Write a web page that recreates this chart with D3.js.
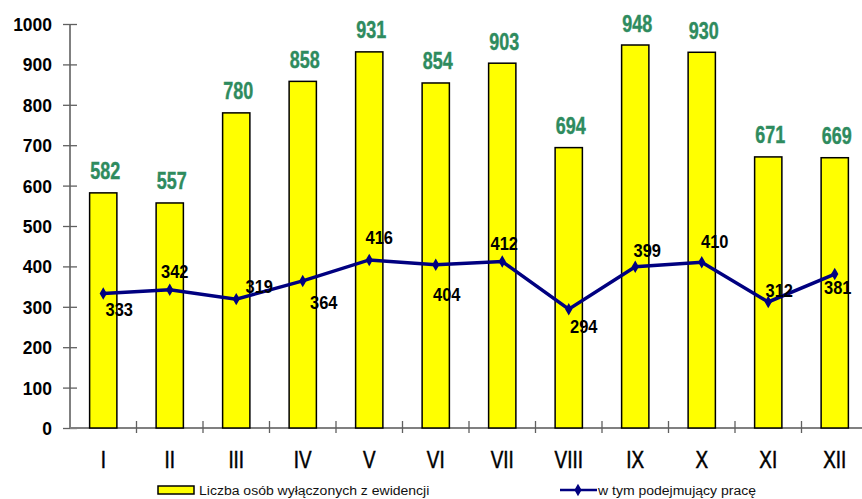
<!DOCTYPE html>
<html>
<head>
<meta charset="utf-8">
<title>Liczba osób wyłączonych z ewidencji</title>
<script src="https://d3js.org/d3.v7.min.js"></script>
<style>
  body { margin: 0; background: #fff; }
  svg { display: block; font-family: "Liberation Sans", Arial, sans-serif; }
</style>
</head>
<body>
<div class="chart"></div>
<script>
// data
var months = ["I", "II", "III", "IV", "V", "VI", "VII", "VIII", "IX", "X", "XI", "XII"];
var wylaczeni = [582, 557, 780, 858, 931, 854, 903, 694, 948, 930, 671, 669];
var podejmujacy = [333, 342, 319, 364, 416, 404, 412, 294, 399, 410, 312, 381];
var yTicks = [0, 100, 200, 300, 400, 500, 600, 700, 800, 900, 1000];
var seriesNames = ["Liczba osób wyłączonych z ewidencji", "w tym podejmujący pracę"];
// where the line labels sit relative to their points [dx, dy of baseline]
var lineLabelOffsets = [[16, 23], [5, -12], [23, -6], [21, 28], [10, -16], [11, 36],
                        [2, -12], [15, 24], [12, -10], [13, -14], [11, -5], [3, 20]];

const width = 862;
const height = 499;

const svg = d3.select(".chart")
    .append("svg")
    .attr("width", width)
    .attr("height", height);

const x = d3.scaleBand()
    .domain(months)
    .range([70, 868])
    .paddingInner(0.59)
    .paddingOuter(0.295);

const y = d3.scaleLinear()
    .domain([0, 1000])
    .range([428, 24]);

// squeeze text horizontally so it looks like the narrow font of the original
function squeeze(sel, ratio) {
    sel.each(function() {
        var w = this.getComputedTextLength();
        d3.select(this).attr("textLength", w * ratio).attr("lengthAdjust", "spacingAndGlyphs");
    });
}

// y axis
const yAxis = svg.append("g")
    .attr("transform", "translate(70,0)")
    .call(d3.axisLeft(y).tickValues(yTicks).tickFormat(d3.format("d")).tickSize(7));
yAxis.select(".domain").attr("stroke", "#808080").attr("stroke-width", 2).attr("d", "M0,428V24");
yAxis.selectAll(".tick line").attr("stroke", "#606060").attr("stroke-width", 1.3).attr("x2", 7).attr("x1", -7);
yAxis.selectAll(".tick text")
    .attr("font-size", "18px")
    .attr("font-weight", "bold")
    .attr("font-family", "Liberation Sans, Arial, sans-serif")
    .attr("fill", "#000")
    .attr("x", -18)
    .attr("dy", "0.36em")
    .call(squeeze, 0.97);

// x axis line and ticks on band boundaries
svg.append("line")
    .attr("x1", 70).attr("x2", width)
    .attr("y1", y(0)).attr("y2", y(0))
    .attr("stroke", "#808080").attr("stroke-width", 2);

svg.selectAll("line.xtick")
    .data(months.slice(1))
    .enter()
    .append("line")
    .attr("class", "xtick")
    .attr("x1", d => x(d) - x.step() * x.paddingInner() / 2)
    .attr("x2", d => x(d) - x.step() * x.paddingInner() / 2)
    .attr("y1", y(0) - 7)
    .attr("y2", y(0) + 5)
    .attr("stroke", "#606060").attr("stroke-width", 1.3);

svg.selectAll("text.month")
    .data(months)
    .enter()
    .append("text")
    .attr("class", "month")
    .attr("x", d => x(d) + x.bandwidth() / 2)
    .attr("y", 468)
    .attr("text-anchor", "middle")
    .attr("font-size", "23px")
    .attr("fill", "#000")
    .attr("stroke", "#000")
    .attr("stroke-width", 0.5)
    .text(d => d)
    .call(squeeze, 0.82);

// bars
svg.selectAll("rect.bar")
    .data(wylaczeni)
    .enter()
    .append("rect")
    .attr("class", "bar")
    .attr("x", (d, i) => x(months[i]))
    .attr("y", d => y(d))
    .attr("width", x.bandwidth())
    .attr("height", d => y(0) - y(d))
    .attr("fill", "#ffff00")
    .attr("stroke", "#000")
    .attr("stroke-width", 1.5);

svg.selectAll("text.barval")
    .data(wylaczeni)
    .enter()
    .append("text")
    .attr("class", "barval")
    .attr("x", (d, i) => x(months[i]) + x.bandwidth() / 2 + 2)
    .attr("y", d => y(d) - 13.5)
    .attr("text-anchor", "middle")
    .attr("font-size", "23px")
    .attr("font-weight", "bold")
    .attr("fill", "#2e8b5e")
    .attr("stroke", "#2e8b5e")
    .attr("stroke-width", 0.4)
    .text(d => d)
    .call(squeeze, 0.78);

// line series
const cx = (d, i) => x(months[i]) + x.bandwidth() / 2;
const line = d3.line()
    .x(cx)
    .y(d => y(d));

svg.append("path")
    .datum(podejmujacy)
    .attr("d", line)
    .attr("fill", "none")
    .attr("stroke", "#000080")
    .attr("stroke-width", 3.5);

const diamond = d3.symbol().type(d3.symbolDiamond).size(45);

svg.selectAll("path.marker")
    .data(podejmujacy)
    .enter()
    .append("path")
    .attr("class", "marker")
    .attr("transform", (d, i) => "translate(" + cx(d, i) + "," + y(d) + ")")
    .attr("d", diamond)
    .attr("fill", "#000080");

svg.selectAll("text.lineval")
    .data(podejmujacy)
    .enter()
    .append("text")
    .attr("class", "lineval")
    .attr("x", (d, i) => cx(d, i) + lineLabelOffsets[i][0])
    .attr("y", (d, i) => y(d) + lineLabelOffsets[i][1])
    .attr("text-anchor", "middle")
    .attr("font-size", "18.5px")
    .attr("font-weight", "bold")
    .attr("fill", "#000")
    .text(d => d)
    .call(squeeze, 0.89);

// legend
const legend = svg.append("g");
legend.append("rect")
    .attr("x", 158).attr("y", 486)
    .attr("width", 36).attr("height", 8)
    .attr("fill", "#ffff00").attr("stroke", "#000").attr("stroke-width", 1.5);
legend.append("text")
    .attr("x", 199).attr("y", 495)
    .attr("font-size", "12.5px")
    .attr("fill", "#111")
    .text(seriesNames[0])
    .call(squeeze, 1.12);

legend.append("line")
    .attr("x1", 560).attr("x2", 597)
    .attr("y1", 490).attr("y2", 490)
    .attr("stroke", "#000080").attr("stroke-width", 2.5);
legend.append("path")
    .attr("transform", "translate(578,490)")
    .attr("d", diamond)
    .attr("fill", "#000080");
legend.append("text")
    .attr("x", 598).attr("y", 495)
    .attr("font-size", "12.5px")
    .attr("fill", "#111")
    .text(seriesNames[1])
    .call(squeeze, 1.12);
</script>
</body>
</html>
